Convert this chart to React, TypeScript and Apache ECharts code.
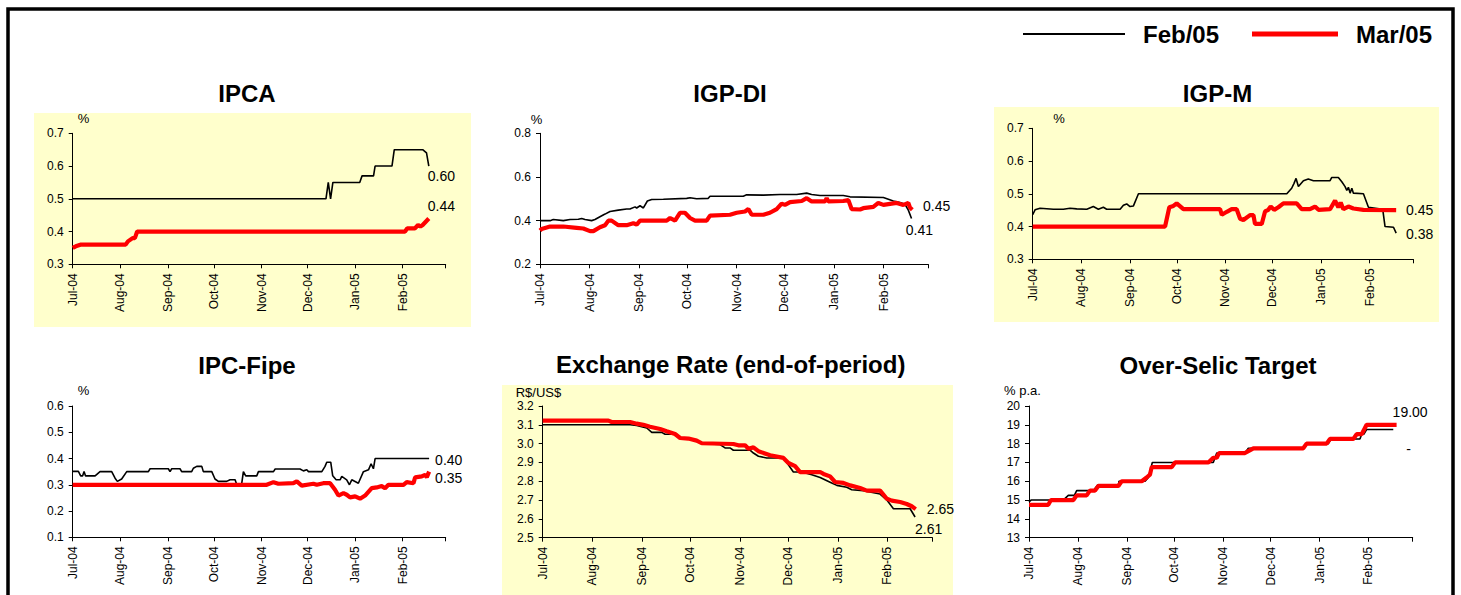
import { useEffect, useRef } from 'react';
import * as echarts from 'echarts';

// ---------- data ----------
// x values are day offsets from 1 July 2004
const monthStarts = [0, 31, 62, 92, 123, 153, 184, 215, 243];
const monthLabels = ['Jul-04', 'Aug-04', 'Sep-04', 'Oct-04', 'Nov-04', 'Dec-04', 'Jan-05', 'Feb-05'];
const seriesNames = ['Feb/05', 'Mar/05'];
const panelTitles = ['IPCA', 'IGP-DI', 'IGP-M', 'IPC-Fipe', 'Exchange Rate (end-of-period)', 'Over-Selic Target'];
const unitLabels = ['%', '%', '%', '%', 'R$/US$', '% p.a.'];
const yMin = [0.3, 0.2, 0.3, 0.1, 2.5, 13];
const yMax = [0.7, 0.8, 0.7, 0.6, 3.2, 20];
const yStep = [0.1, 0.2, 0.1, 0.1, 0.1, 1];
const yDecimals = [1, 1, 1, 1, 1, 0];
const selicFebEndText = '-';

const ipcaFeb = [[0, 0.5], [165, 0.5], [166.5, 0.55], [168, 0.5], [169.5, 0.55], [187, 0.55], [188.5, 0.57], [196, 0.57], [197, 0.6], [208, 0.6], [209.5, 0.65], [228, 0.65], [230.5, 0.64], [232, 0.6]];
const ipcaMar = [[0, 0.35], [2, 0.355], [5, 0.36], [34.5, 0.36], [36, 0.37], [39, 0.38], [40.5, 0.38], [42, 0.4], [216.5, 0.4], [218, 0.41], [223, 0.41], [225, 0.42], [226.5, 0.415], [228, 0.42], [230, 0.43], [232, 0.44]];

const igpdiFeb = [[0, 0.4], [6.3, 0.4], [8.3, 0.405], [14.6, 0.4], [18.8, 0.405], [24, 0.406], [26.1, 0.41], [28.2, 0.405], [32.3, 0.4], [34.4, 0.405], [37.5, 0.418], [40.7, 0.43], [43.8, 0.442], [49, 0.448], [54.2, 0.453], [56.3, 0.453], [59.5, 0.463], [60.5, 0.458], [62.6, 0.468], [64.7, 0.458], [67.2, 0.49], [69.9, 0.497], [77.2, 0.498], [91.8, 0.502], [93.9, 0.505], [98, 0.5], [105.3, 0.502], [106.4, 0.512], [127.2, 0.512], [129.3, 0.518], [139.8, 0.517], [150.2, 0.52], [160.6, 0.52], [166.9, 0.526], [170, 0.52], [175.2, 0.515], [189.8, 0.515], [194, 0.509], [214.9, 0.506], [221.1, 0.49], [225.3, 0.483], [228.4, 0.475], [230.5, 0.448], [232.5, 0.41]];
const igpdiMar = [[0, 0.355], [1, 0.362], [6.3, 0.373], [14.6, 0.373], [22.9, 0.367], [27.1, 0.364], [31.3, 0.352], [33.4, 0.352], [37.5, 0.37], [40.7, 0.379], [42.8, 0.4], [44.8, 0.4], [49, 0.379], [54.2, 0.379], [58.4, 0.388], [60.5, 0.382], [62.6, 0.4], [79.3, 0.4], [81.4, 0.412], [84.5, 0.4], [87.6, 0.436], [90.7, 0.436], [93.9, 0.412], [97, 0.4], [104.3, 0.4], [106.4, 0.423], [118.9, 0.427], [123.1, 0.436], [128.3, 0.442], [130.4, 0.453], [132.5, 0.427], [139.8, 0.427], [143.9, 0.436], [148.1, 0.453], [151.2, 0.478], [153.3, 0.472], [156.5, 0.485], [163.8, 0.49], [166.9, 0.503], [170, 0.488], [178.4, 0.488], [179.4, 0.503], [180.4, 0.488], [189.8, 0.49], [193, 0.494], [195, 0.453], [200.3, 0.451], [202.3, 0.457], [208.6, 0.463], [211.7, 0.481], [214.9, 0.472], [223.2, 0.481], [227.4, 0.472], [230.5, 0.481], [231.5, 0.46], [233, 0.45]];

const igpmFeb = [[0, 0.436], [1.5, 0.451], [4.7, 0.456], [13.2, 0.453], [19.6, 0.453], [23.8, 0.456], [28.1, 0.454], [34.5, 0.453], [38.7, 0.461], [41.9, 0.453], [45.1, 0.459], [47.2, 0.453], [55.8, 0.453], [57.9, 0.465], [60, 0.469], [62.1, 0.461], [64.3, 0.463], [67.5, 0.5], [162.2, 0.5], [165.3, 0.517], [166.8, 0.532], [168.1, 0.547], [169.6, 0.522], [172.8, 0.54], [175.9, 0.545], [179.2, 0.54], [189.8, 0.54], [190.9, 0.55], [195.1, 0.55], [197.3, 0.537], [199.4, 0.522], [200.5, 0.51], [201.5, 0.52], [202.6, 0.502], [203.7, 0.517], [204.7, 0.502], [211.1, 0.5], [214.3, 0.459], [223.4, 0.453], [224.9, 0.4], [230.3, 0.398], [232, 0.38]];
const igpmMar = [[0, 0.4], [84.5, 0.4], [87.2, 0.459], [89.8, 0.463], [91.9, 0.471], [96.2, 0.453], [119.6, 0.453], [120.7, 0.436], [123.9, 0.445], [127, 0.453], [130.2, 0.453], [132.4, 0.424], [134.5, 0.42], [138.7, 0.435], [140.9, 0.435], [141.9, 0.408], [146.2, 0.408], [148.3, 0.446], [150.4, 0.451], [151.9, 0.461], [154.1, 0.451], [156.8, 0.459], [160, 0.471], [168.5, 0.471], [171.7, 0.453], [177, 0.453], [180.2, 0.461], [182.4, 0.451], [189.8, 0.453], [193, 0.479], [195.1, 0.459], [196.6, 0.473], [198.3, 0.453], [201.5, 0.461], [204.7, 0.455], [211.1, 0.451], [232, 0.45]];

const fipeFeb = [[0, 0.351], [3.7, 0.351], [5.2, 0.334], [6.5, 0.334], [7.4, 0.351], [8.3, 0.334], [14.6, 0.334], [17.8, 0.35], [25.4, 0.35], [27.6, 0.325], [29.1, 0.313], [31.9, 0.322], [35.2, 0.35], [49.3, 0.35], [50.4, 0.361], [62.3, 0.361], [63.4, 0.35], [64.5, 0.361], [69.9, 0.361], [71, 0.35], [77.5, 0.35], [78.6, 0.363], [80.8, 0.37], [84.1, 0.37], [85.1, 0.35], [90.6, 0.35], [92.7, 0.322], [94.9, 0.313], [100.3, 0.313], [102.5, 0.319], [105.8, 0.319], [106.9, 0.3], [110.1, 0.304], [111.2, 0.35], [112.7, 0.334], [119.9, 0.334], [121, 0.35], [130.8, 0.35], [131.9, 0.36], [148.1, 0.36], [150.3, 0.353], [152.5, 0.357], [153.6, 0.35], [162.3, 0.35], [164.4, 0.37], [165.5, 0.386], [168.1, 0.386], [169.4, 0.334], [171.6, 0.319], [174.2, 0.319], [175.3, 0.332], [178.5, 0.319], [180.3, 0.3], [181.8, 0.319], [186.1, 0.306], [189.4, 0.35], [192.7, 0.357], [194.4, 0.38], [195.9, 0.361], [197, 0.4], [232.2, 0.4]];
const fipeMar = [[0, 0.3], [126.4, 0.3], [130.8, 0.31], [134, 0.304], [143.8, 0.306], [146, 0.313], [149.2, 0.297], [156.8, 0.304], [159, 0.3], [163.3, 0.306], [167.7, 0.306], [170.9, 0.281], [173.1, 0.259], [176.4, 0.268], [178.5, 0.262], [180.7, 0.252], [184, 0.256], [187.2, 0.247], [190.5, 0.259], [194.8, 0.287], [198.1, 0.29], [201.3, 0.295], [203.5, 0.287], [205.7, 0.3], [215.5, 0.3], [217.6, 0.31], [222, 0.306], [223.1, 0.328], [227.4, 0.332], [229.6, 0.338], [230.7, 0.329], [232.2, 0.35]];

const fxFeb = [[0, 3.1], [54.5, 3.1], [58.6, 3.097], [61.7, 3.09], [64.9, 3.083], [68, 3.06], [74.2, 3.06], [76.3, 3.05], [83.6, 3.05], [85.7, 3.03], [91.9, 3.025], [96, 3.012], [99.2, 3.0], [110.6, 2.995], [113.7, 2.977], [116.8, 2.977], [118.9, 2.965], [129.3, 2.965], [131.4, 2.95], [134.5, 2.933], [139.7, 2.924], [150.1, 2.924], [153.2, 2.888], [156.3, 2.849], [161.5, 2.849], [167.8, 2.835], [173, 2.82], [179.2, 2.795], [183.4, 2.778], [189.6, 2.768], [192.7, 2.755], [200, 2.75], [210.4, 2.732], [214.6, 2.7], [218.7, 2.654], [229.1, 2.654], [230.8, 2.63], [232.2, 2.61]];
const fxMar = [[0, 3.122], [41, 3.122], [43, 3.115], [54.5, 3.115], [58.6, 3.106], [62.8, 3.1], [66.9, 3.09], [73.2, 3.078], [77.3, 3.066], [82.5, 3.051], [85.7, 3.03], [90.9, 3.027], [96, 3.016], [99.2, 3.002], [118.9, 2.998], [122, 2.991], [126.2, 2.991], [128.3, 2.973], [131.4, 2.98], [134.5, 2.96], [141.8, 2.938], [150.1, 2.924], [153.2, 2.897], [157.4, 2.88], [160.5, 2.849], [173, 2.849], [175.1, 2.839], [179.2, 2.826], [182.3, 2.796], [187.5, 2.791], [191.7, 2.778], [197.9, 2.764], [202.1, 2.75], [210.4, 2.75], [214.6, 2.707], [217.7, 2.697], [222.9, 2.69], [227, 2.679], [230.1, 2.667], [232.6, 2.652]];

const selicFeb = [[0, 14.9], [1.3, 15.0], [21.7, 15.0], [24.9, 15.25], [28.7, 15.25], [30.2, 15.5], [40.7, 15.5], [43.5, 15.8], [56.6, 15.8], [57, 16.0], [73.5, 16.0], [75.6, 16.2], [78.1, 17.0], [116.7, 17.0], [118.9, 17.5], [136.8, 17.5], [138.9, 17.75], [173.7, 17.75], [175.8, 18.0], [189.6, 18.0], [191.3, 18.25], [209.6, 18.25], [210.7, 18.5], [212, 18.5], [213.8, 18.75], [230.7, 18.75]];
const selicMar = [[0, 14.75], [12.2, 14.75], [13.9, 15.0], [28.1, 15.0], [30.2, 15.25], [36.5, 15.25], [38.6, 15.5], [41.8, 15.5], [43.9, 15.75], [56.6, 15.75], [58.7, 16.0], [71.4, 16.0], [74.5, 16.2], [76.6, 16.35], [77.7, 16.75], [90.4, 16.75], [92.5, 17.0], [113.6, 17.0], [116.7, 17.25], [118.9, 17.25], [120.3, 17.5], [136.8, 17.5], [138.9, 17.6], [142.1, 17.75], [173.7, 17.75], [175.8, 18.0], [188.5, 18.0], [190.6, 18.25], [205.4, 18.25], [207.5, 18.5], [210.7, 18.5], [213.8, 19.0], [232.8, 19.0]];

const febSeries = [ipcaFeb, igpdiFeb, igpmFeb, fipeFeb, fxFeb, selicFeb];
const marSeries = [ipcaMar, igpdiMar, igpmMar, fipeMar, fxMar, selicMar];

// ---------- layout ----------
const FONT = "'Liberation Sans', Arial, Helvetica, sans-serif";
const layout = [
  { grid: { left: 72.7, top: 133.3, width: 373, height: 131 }, title: [247, 93.3], unit: [83.5, 118], off: [[-6, 9.5], [-6, -12]] },
  { grid: { left: 540, top: 133.3, width: 388.3, height: 131 }, title: [730, 93.3], unit: [536.5, 119], off: [[-10.7, 12], [5.7, -4]] },
  { grid: { left: 1032.7, top: 128.3, width: 380.7, height: 131 }, title: [1217.5, 93.3], unit: [1059, 118], off: [[4.8, 1], [4.8, 0]] },
  { grid: { left: 72.7, top: 406, width: 373, height: 131.3 }, title: [247, 365], unit: [83.5, 390], off: [[1, 1.3], [1, 6]] },
  { grid: { left: 542.7, top: 406, width: 389.7, height: 131.7 }, title: [730.7, 364.5], unit: [538.5, 392], off: [[-5, 12], [6, 0]] },
  { grid: { left: 1029, top: 406, width: 383.7, height: 131.7 }, title: [1218, 365], unit: [1022.5, 390.5], off: [[8, 19], [-9, -13]] },
];
const bgRects = [
  { x: 34, y: 113, width: 437, height: 214 },
  { x: 994, y: 107, width: 445, height: 215 },
  { x: 502, y: 385, width: 451, height: 230 },
];

function buildOption() {
  const grids: any[] = [];
  const xAxes: any[] = [];
  const yAxes: any[] = [];
  const series: any[] = [];
  const graphics: any[] = [];

  bgRects.forEach((r) => {
    graphics.push({ type: 'rect', z: -10, silent: true, shape: r, style: { fill: '#FFFFCC' } });
  });
  graphics.push({
    type: 'rect', z: 10, silent: true,
    shape: { x: 8, y: 9, width: 1445, height: 700 },
    style: { fill: 'none', stroke: '#000', lineWidth: 3.5 },
  });

  layout.forEach((p, i) => {
    grids.push({ ...p.grid, containLabel: false });
    xAxes.push({
      type: 'value', gridIndex: i, min: monthStarts[0], max: monthStarts[monthStarts.length - 1],
      axisLine: { show: true, onZero: false, lineStyle: { color: '#000', width: 1 } },
      axisTick: { show: true, length: 4, customValues: monthStarts, lineStyle: { color: '#000' } },
      axisLabel: {
        customValues: monthStarts.slice(0, monthLabels.length), rotate: 90, margin: 9,
        fontSize: 12, color: '#000', fontFamily: FONT,
        formatter: (v: number) => monthLabels[monthStarts.indexOf(v)] ?? '',
      },
      splitLine: { show: false },
    });
    yAxes.push({
      type: 'value', gridIndex: i, min: yMin[i], max: yMax[i], interval: yStep[i],
      axisLine: { show: true, onZero: false, lineStyle: { color: '#000', width: 1 } },
      axisTick: { show: true, length: 4, lineStyle: { color: '#000' } },
      axisLabel: {
        margin: 9, fontSize: 12, color: '#000', fontFamily: FONT,
        formatter: (v: number) => v.toFixed(yDecimals[i]),
      },
      splitLine: { show: false },
    });
    [febSeries[i], marSeries[i]].forEach((data, k) => {
      const isFeb = k === 0;
      series.push({
        type: 'line', name: seriesNames[k], xAxisIndex: i, yAxisIndex: i, data,
        symbol: 'none', z: isFeb ? 2 : 3,
        lineStyle: { color: isFeb ? '#000' : '#ff0000', width: isFeb ? 1.6 : 4.2 },
        itemStyle: { color: isFeb ? '#000' : '#ff0000' },
        emphasis: { disabled: true },
        endLabel: {
          show: true, distance: 5, offset: p.off[k], fontSize: 14, color: '#000', fontFamily: FONT,
          formatter: (params: any) =>
            i === 5 && isFeb ? selicFebEndText : Number(params.value[1]).toFixed(2),
        },
      });
    });
    graphics.push({
      type: 'text', x: p.title[0], y: p.title[1], silent: true,
      style: { text: panelTitles[i], fill: '#000', font: `bold 24px ${FONT}`, align: 'center', verticalAlign: 'middle' },
    });
    graphics.push({
      type: 'text', x: p.unit[0], y: p.unit[1], silent: true,
      style: { text: unitLabels[i], fill: '#000', font: `13px ${FONT}`, align: 'center', verticalAlign: 'middle' },
    });
  });

  const legendBase = {
    top: 22, icon: 'rect', padding: 0,
    textStyle: { fontSize: 24, fontWeight: 'bold', color: '#000', fontFamily: FONT, padding: [0, 0, 0, 13] },
    selectedMode: false,
  };

  return {
    animation: false,
    backgroundColor: '#fff',
    textStyle: { fontFamily: FONT, color: '#000' },
    legend: [
      { ...legendBase, left: 1023, itemWidth: 102, itemHeight: 2, data: [seriesNames[0]] },
      { ...legendBase, left: 1252, itemWidth: 86, itemHeight: 5, data: [seriesNames[1]] },
    ],
    grid: grids,
    xAxis: xAxes,
    yAxis: yAxes,
    series,
    graphic: { elements: graphics },
  };
}

export default function App() {
  const ref = useRef<HTMLDivElement>(null);
  useEffect(() => {
    if (!ref.current) return;
    const chart = echarts.init(ref.current, undefined, { renderer: 'svg' });
    chart.setOption(buildOption() as any);
    return () => chart.dispose();
  }, []);
  return <div ref={ref} style={{ position: 'absolute', left: 0, top: 0, width: 1461, height: 595 }} />;
}
